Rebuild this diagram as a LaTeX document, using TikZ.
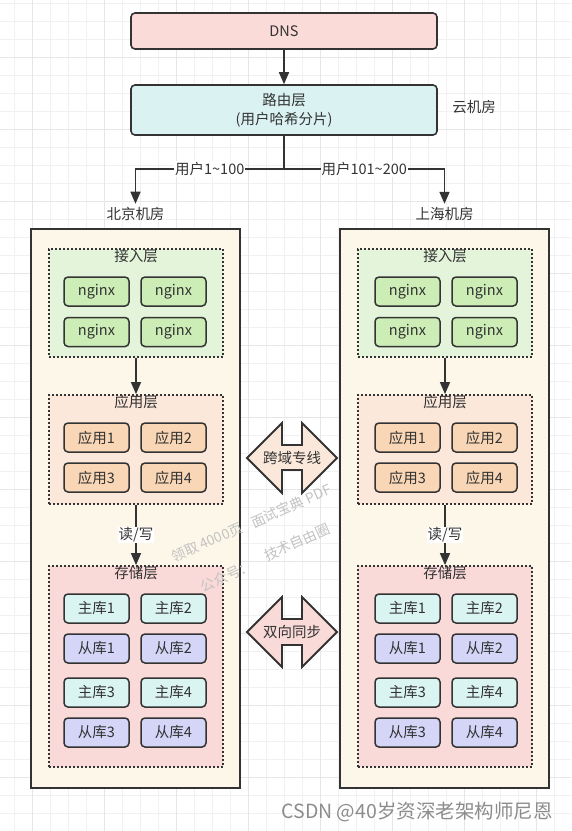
\documentclass[tikz,border=0pt]{standalone}
\usepackage{fontspec}
\setmainfont{Noto Sans CJK SC}
\usetikzlibrary{arrows.meta}

\definecolor{ink}{HTML}{333333}
\definecolor{dnsfill}{HTML}{FADBD8}
\definecolor{routefill}{HTML}{DAF3F2}
\definecolor{dcfill}{HTML}{FCF7E8}
\definecolor{accfill}{HTML}{E4F4DA}
\definecolor{ngxfill}{HTML}{CDEDB6}
\definecolor{appfill}{HTML}{FBE8DA}
\definecolor{appbox}{HTML}{F9D6B5}
\definecolor{storefill}{HTML}{FADAD8}
\definecolor{mfill}{HTML}{DAF4F2}
\definecolor{sfill}{HTML}{D4D5F7}
\definecolor{gridminor}{HTML}{F1F1F1}
\definecolor{gridmajor}{HTML}{E6E6E6}

\tikzset{
  topbox/.style={draw=ink, line width=1.6pt, rounded corners=4pt, minimum width=306pt, inner sep=0pt},
  box/.style={draw=ink, line width=1.5pt, rounded corners=4pt, minimum width=65pt, minimum height=29pt, inner sep=0pt},
  layer/.style={draw=ink, line width=1.8pt, dash pattern=on 1.8pt off 2.2pt, minimum width=174pt, inner sep=0pt},
  dcbox/.style={draw=ink, line width=2pt, fill=dcfill, minimum width=209pt, minimum height=559pt, inner sep=0pt},
  arr/.style={draw=ink, line width=1.5pt, -{Triangle[length=12pt,width=10pt]}},
  lbl/.style={fill=white, inner sep=1pt},
  title/.style={anchor=north, inner sep=1pt},
  dbl/.style={draw=ink, line width=1.8pt, line join=miter},
  wmark/.style={rotate=24, inner sep=0pt, text=black!24, font=\fontsize{14}{16}\selectfont},
}

\begin{document}
\begin{tikzpicture}[x=1pt,y=-1pt,
    every node/.style={font=\fontsize{14.5}{19}\selectfont, text=ink}]
  \useasboundingbox (0,0) rectangle (571,831);
  \fill[white] (0,0) rectangle (571,831);

  % background grid
  \foreach \x in {14.5,32.5,...,571} \draw[gridminor,line width=0.8pt] (\x,0) -- (\x,831);
  \foreach \y in {3,21,...,831} \draw[gridminor,line width=0.8pt] (0,\y) -- (571,\y);
  \foreach \x in {32.5,104.5,...,571} \draw[gridmajor,line width=1pt] (\x,0) -- (\x,831);
  \foreach \y in {57,129,...,831} \draw[gridmajor,line width=1pt] (0,\y) -- (571,\y);

  % top
  \node[topbox, fill=dnsfill, minimum height=36pt] (dns) at (284,31) {DNS};
  \node[topbox, fill=routefill, minimum height=50pt, align=center] (router) at (284,110) {路由层\\(用户哈希分片)};
  \node (cloud) at (474,107) {云机房};
  \draw[arr] (dns) -- (router);

  % two rooms
  \foreach \dc/\dx/\cx/\city in {bj/0/0/北京机房,sh/309/311/上海机房}{
    \node[dcbox] (\dc) at (135.5+\dx,508.5) {};
    \node (\dc-name) at (135.5+\dx,214) {\city};

    \node[layer, fill=accfill, minimum height=108pt] (\dc-access) at (136+\dx,303) {};
    \node[title] (\dc-access-t) at (\dc-access.north) {接入层};
    \foreach \i/\x/\y in {1/96.5/291.5,2/173.5/291.5,3/96.5/332,4/173.5/332}
      \node[box, fill=ngxfill] (\dc-ngx\i) at (\x+\cx,\y) {nginx};

    \node[layer, fill=appfill, minimum height=109pt] (\dc-app) at (136+\dx,449.5) {};
    \node[title] (\dc-app-t) at (\dc-app.north) {应用层};
    \foreach \i/\x/\y in {1/96.5/437.5,2/173.5/437.5,3/96.5/477.5,4/173.5/477.5}
      \node[box, fill=appbox] (\dc-app\i) at (\x+\cx,\y) {应用\i};

    \node[layer, fill=storefill, minimum height=201pt] (\dc-store) at (136+\dx,666.5) {};
    \node[title] (\dc-store-t) at (\dc-store.north) {存储层};
    \foreach \i/\x/\y/\t/\f in {1/96.5/608.5/主库1/mfill,2/173.5/608.5/主库2/mfill,
        3/96.5/648.5/从库1/sfill,4/173.5/648.5/从库2/sfill,
        5/96.5/692.5/主库3/mfill,6/173.5/692.5/主库4/mfill,
        7/96.5/732.5/从库3/sfill,8/173.5/732.5/从库4/sfill}
      \node[box, fill=\f] (\dc-db\i) at (\x+\cx,\y) {\t};

    \draw[arr] (\dc-access) -- (\dc-app.north);
    \draw[arr] (\dc-app) -- node[lbl] (\dc-rw) {读/写} (\dc-store.north);
  }

  % split by user
  \draw[arr] (router.south) -- ++(0,33) -| node[pos=0.25,lbl] (bj-users) {用户1\textasciitilde100} (bj-name.north);
  \draw[arr] (router.south) -- ++(0,33) -| node[pos=0.25,lbl] (sh-users) {用户101\textasciitilde200} (sh-name.north);

  % links between rooms
  \coordinate (line) at (292,458);
  \coordinate (sync) at (292,632);
  \draw[dbl, fill=appfill] (line) +(-45,0) -- +(-10,-35) -- +(-10,-13) -- +(10,-13) -- +(10,-35)
    -- +(45,0) -- +(10,35) -- +(10,12) -- +(-10,12) -- +(-10,35) -- cycle;
  \draw[dbl, fill=storefill] (sync) +(-45,0) -- +(-10,-35) -- +(-10,-13) -- +(10,-13) -- +(10,-35)
    -- +(45,0) -- +(10,35) -- +(10,13) -- +(-10,13) -- +(-10,35) -- cycle;
  \node (line-t) at (line) {跨域专线};
  \node (sync-t) at (sync) {双向同步};

  % watermarks
  \node[wmark] (wm1) at (207,542) {领取 4000页};
  \node[wmark] (wm2) at (291,506) {面试宝典 PDF};
  \node[wmark] (wm3) at (227,576) {公众号：};
  \node[wmark] (wm4) at (297,542) {技术自由圈};
  \node[text=black!45, font=\fontsize{19.5}{22}\selectfont] (csdn) at (417,812) {CSDN @40岁资深老架构师尼恩};
\end{tikzpicture}
\end{document}
